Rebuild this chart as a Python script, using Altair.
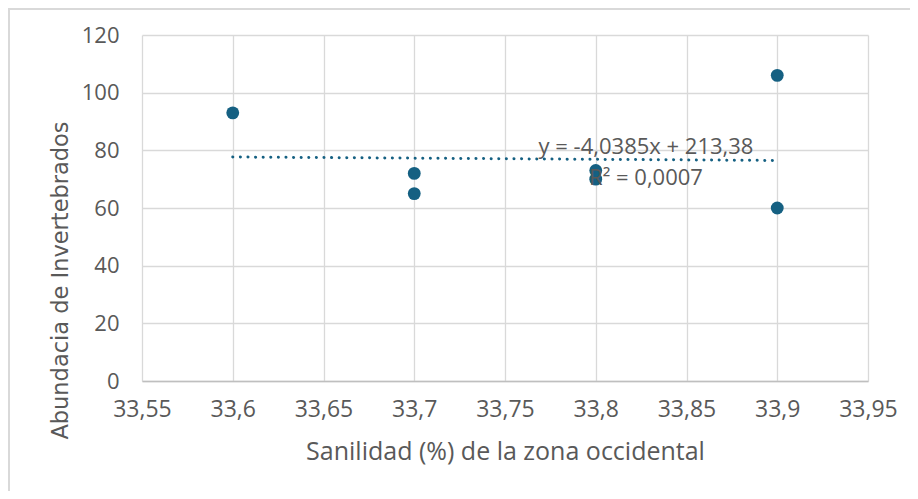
import altair as alt
import pandas as pd

# Data
salinidad = [33.6, 33.7, 33.7, 33.8, 33.8, 33.9, 33.9]
abundancia = [93, 72, 65, 73, 70, 106, 60]
x_ticks = [33.55, 33.6, 33.65, 33.7, 33.75, 33.8, 33.85, 33.9, 33.95]
y_ticks = [0, 20, 40, 60, 80, 100, 120]
eq_text = "y = -4,0385x + 213,38"
r2_text = "R² = 0,0007"

df = pd.DataFrame({"x": salinidad, "y": abundancia})

FONT = "Open Sans"
GRAY = "#595959"
BLUE = "#156082"
W, H = 726, 346

x_enc = alt.X("x:Q",
              scale=alt.Scale(domain=[33.55, 33.95], nice=False, zero=False),
              axis=alt.Axis(values=x_ticks,
                            labelExpr="replace(format(datum.value, '.2~f'), '.', ',')",
                            title="Sanilidad (%) de la zona occidental",
                            grid=True, ticks=False, domain=True,
                            domainColor="#bfbfbf", domainWidth=1.5,
                            labelFlush=False, labelOverlap=False,
                            labelPadding=17, labelFontSize=23,
                            titleX=W / 2, titleY=70, titleFontSize=25,
                            titleBaseline="middle", titleAlign="center"))
y_enc = alt.Y("y:Q",
              scale=alt.Scale(domain=[0, 120], nice=False),
              axis=alt.Axis(values=y_ticks, title="Abundacia de Invertebrados",
                            grid=True, ticks=False, domain=False,
                            labelFlush=False, labelOverlap=False,
                            labelPadding=23, labelFontSize=22,
                            titleFont="DejaVu Sans", titleFontSize=22.5,
                            titleX=-82, titleY=245,
                            titleAngle=270, titleBaseline="middle",
                            titleAlign="center"))

base = alt.Chart(df)

points = base.mark_circle(size=165, opacity=1, color=BLUE).encode(x=x_enc, y=y_enc)

trend = base.transform_regression("x", "y", extent=[33.6, 33.9]).mark_line(
    color=BLUE, strokeWidth=3, strokeDash=[0.1, 7.5], strokeCap="round"
).encode(x="x:Q", y="y:Q")

one = alt.Data(values=[{}])
eq = alt.Chart(one).mark_text(text=eq_text, font=FONT, fontSize=22, color=GRAY,
                              align="center", baseline="middle").encode(
    x=alt.value(504), y=alt.value(112))
r2 = alt.Chart(one).mark_text(text=r2_text, font=FONT, fontSize=22, color=GRAY,
                              align="center", baseline="middle").encode(
    x=alt.value(504), y=alt.value(143))

border = alt.Chart(one).mark_rect(fill=None, stroke="#d9d9d9", strokeWidth=2).encode(
    x=alt.value(-133), y=alt.value(-26), x2=alt.value(800), y2=alt.value(500))

chart = alt.layer(border, trend, points, eq, r2).properties(
    width=W, height=H,
    autosize=alt.AutoSizeParams(type="none"),
    padding={"left": 134, "top": 27, "right": 42, "bottom": 110},
    background="white",
).configure_view(stroke=None).configure_axis(
    gridColor="#d9d9d9", gridWidth=1.3,
    labelFont=FONT, labelColor=GRAY,
    titleFont=FONT, titleColor=GRAY, titleFontWeight="normal",
)

chart.save("out.html", embed_options={"renderer": "svg", "actions": False})
